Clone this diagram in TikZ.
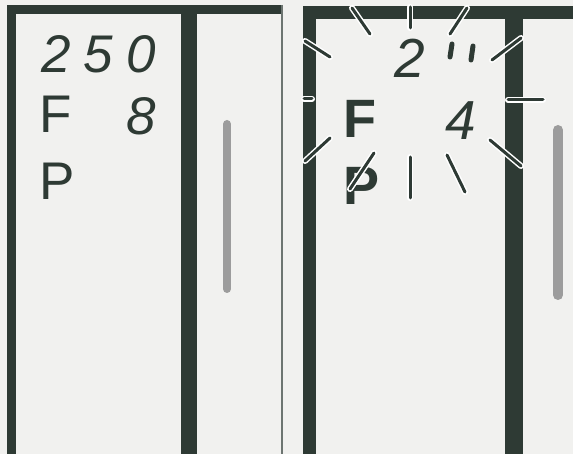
\documentclass[tikz,border=0pt]{standalone}
\usepackage{fontspec}
\newfontfamily\lcdfont{Liberation Sans}
\usetikzlibrary{positioning}
\definecolor{lcddark}{HTML}{2E3A34}
\definecolor{pagebg}{HTML}{F1F1EF}
\definecolor{barcol}{HTML}{9C9C9C}
\tikzset{
  lcdframe/.style={fill=lcddark},
  edgeline/.style={draw=lcddark!70, line width=1.6pt},
  scalebar/.style={draw=barcol, line width=8pt, line cap=round},
  flashray/.style={draw=white, double=lcddark, line width=1.5pt, double distance=3pt, line cap=round},
  litseg/.style={draw=lcddark, line width=5pt, line cap=round},
  segdigit/.style={font=\lcdfont\itshape\fontsize{53}{60}\selectfont, text=lcddark, inner sep=0pt, anchor=base west},
  lcdletter/.style={font=\lcdfont\fontsize{53}{60}\selectfont, text=lcddark, inner sep=0pt, anchor=base west},
  flashletter/.style={lcdletter, font=\lcdfont\bfseries\fontsize{54}{60}\selectfont}
}

\begin{document}
\begin{tikzpicture}[x=1pt, y=-1pt]
  \fill[pagebg] (0,0) rectangle (573,454);
  \useasboundingbox (0,0) rectangle (573,454);

  % left finder: steady display
  \fill[lcdframe] (7,5) rectangle (16,454);
  \fill[lcdframe] (7,5) rectangle (283,14);
  \fill[lcdframe] (181,5) rectangle (197,454);
  \draw[edgeline] (282,5) -- (282,454);
  \draw[scalebar] (227,124) -- (227,289);

  \node[segdigit] (shutter) at (41,73) {2\hspace{13pt}5\hspace{13pt}0};
  \node[lcdletter] (fl) at (39,133) {F};
  \node[segdigit] (aperture) at (126,135) {8};
  \node[lcdletter] (pl) at (39,200) {P};

  % right finder: blinking display
  \fill[lcdframe] (303,6) rectangle (316,454);
  \fill[lcdframe] (303,6) rectangle (573,19);
  \fill[lcdframe] (505,6) rectangle (523,454);
  \draw[scalebar, line width=10pt] (558,130) -- (558,295);

  \node[segdigit, font=\lcdfont\itshape\fontsize{55}{60}\selectfont] (shutterb) at (394,78) {2};
  \draw[litseg] (452,44) -- (450,57);
  \draw[litseg] (473,46) -- (471,60);
  \node[flashletter] (flb) at (343,138) {F};
  \node[segdigit, font=\lcdfont\itshape\fontsize{55}{60}\selectfont] (apertureb) at (445,140) {4};
  \node[flashletter] (plb) at (343,205) {P};

  % blink rays
  \foreach \a/\b in {{(352,8)}/{(370,34)}, {(305,41)}/{(330,57)}, {(410,7)}/{(410,28)},
                     {(467,8)}/{(450,34)}, {(521,38)}/{(492,60)}, {(508,100)}/{(543,100)},
                     {(490,140)}/{(521,166)}, {(447,155)}/{(465,192)}, {(410,157)}/{(410,198)},
                     {(374,153)}/{(350,189)}, {(330,138)}/{(305,161)}, {(304,99)}/{(312,99)}}
    \draw[flashray] \a -- \b;
\end{tikzpicture}
\end{document}
